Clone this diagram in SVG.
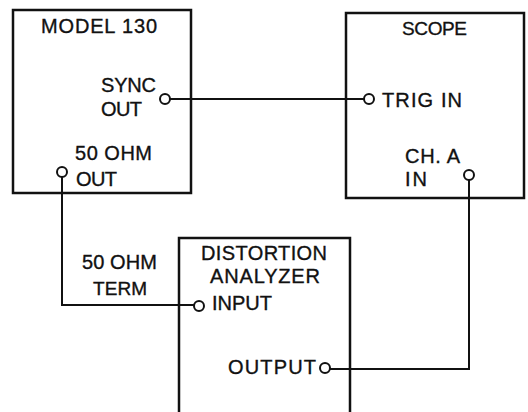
<svg xmlns="http://www.w3.org/2000/svg" width="528" height="412" viewBox="0 0 528 412">
<style>
.box{fill:none;stroke:#111;stroke-width:2.5}
.wire{fill:none;stroke:#111;stroke-width:2}
.port{fill:#fff;stroke:#111;stroke-width:2}
text{font-family:"Liberation Sans",Arial,sans-serif;font-size:20px;fill:#111;stroke:#111;stroke-width:0.35}
.s19{font-size:19px}
</style>
<rect width="528" height="412" fill="#fff"/>
<g id="connectors">
<path class="wire" d="M170,99 H364"/>
<path class="wire" d="M62,177 V305 H194"/>
<path class="wire" d="M469,180 V369 H330"/>
</g>
<g id="model130">
<rect class="box" x="13" y="10" width="178" height="183"/>
<text x="41" y="33" textLength="116" lengthAdjust="spacing">MODEL 130</text>
<text x="101" y="92" textLength="55" lengthAdjust="spacing">SYNC</text>
<text x="101" y="116" textLength="41" lengthAdjust="spacing">OUT</text>
<text x="75" y="160" textLength="77" lengthAdjust="spacing">50 OHM</text>
<text x="76" y="186" textLength="41" lengthAdjust="spacing">OUT</text>
<circle class="port" cx="165" cy="99" r="5"/>
<circle class="port" cx="62" cy="172" r="5"/>
</g>
<g id="scope">
<rect class="box" x="346" y="13" width="178" height="185"/>
<text class="s19" x="402" y="35" textLength="65" lengthAdjust="spacing">SCOPE</text>
<text x="382" y="107" textLength="80" lengthAdjust="spacing">TRIG IN</text>
<text x="405" y="163" textLength="55" lengthAdjust="spacing">CH. A</text>
<text x="405" y="186" textLength="22" lengthAdjust="spacing">IN</text>
<circle class="port" cx="369" cy="99" r="5"/>
<circle class="port" cx="469" cy="175" r="5"/>
</g>
<g id="analyzer">
<path class="box" d="M179,412 V238 H350 V412"/>
<text x="201" y="260" textLength="126" lengthAdjust="spacing">DISTORTION</text>
<text x="210" y="283" textLength="110" lengthAdjust="spacing">ANALYZER</text>
<text x="212" y="310" textLength="60" lengthAdjust="spacing">INPUT</text>
<text x="228" y="374" textLength="88" lengthAdjust="spacing">OUTPUT</text>
<circle class="port" cx="199" cy="306" r="5"/>
<circle class="port" cx="325" cy="368" r="5"/>
</g>
<g id="term-label">
<text x="82" y="269" textLength="75" lengthAdjust="spacing">50 OHM</text>
<text class="s19" x="93" y="295" textLength="54" lengthAdjust="spacing">TERM</text>
</g>
</svg>
